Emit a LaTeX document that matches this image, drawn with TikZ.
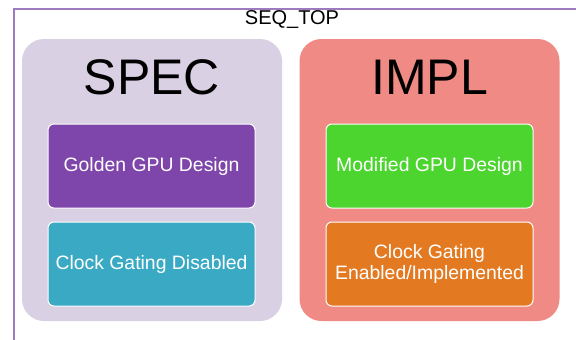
\documentclass[tikz,border=0pt]{standalone}
\usepackage{fontspec}
\setmainfont{Liberation Sans}
\definecolor{framec}{HTML}{9C7BBF}
\definecolor{specbg}{HTML}{D9D0E3}
\definecolor{implbg}{HTML}{F08A84}
\definecolor{golden}{HTML}{7E45AA}
\definecolor{cgoff}{HTML}{3AA9C3}
\definecolor{modif}{HTML}{4BD52E}
\definecolor{cgon}{HTML}{E37A22}
\tikzset{
  panel/.style={minimum width=260pt,minimum height=282pt,rounded corners=22pt,inner sep=0pt},
  blk/.style={draw=white,line width=1pt,rounded corners=6pt,minimum width=207pt,minimum height=84pt,
    text=white,align=center,inner sep=2pt,font=\fontsize{19.4}{21}\selectfont},
  title/.style={font=\fontsize{50}{54}\selectfont}
}
\begin{document}
\begin{tikzpicture}[x=1pt,y=-1pt]
\useasboundingbox (0,0) rectangle (576,340);
% outer frame, runs off the page on the right and bottom
\draw[framec,line width=1.6pt] (600,8.8) -- (14,8.8) -- (14,360);
\node[font=\fontsize{20}{22}\selectfont] (top) at (292,20) {SEQ\_TOP};

% left side
\node[panel,fill=specbg] (spec) at (152,180) {};
\node[title] (spect) at (152,77) {SPEC};
\node[blk,fill=golden] (gold) at (151.5,166) {Golden GPU Design};
\node[blk,fill=cgoff] (cgd) at (151.5,264) {Clock Gating Disabled};

% right side
\node[panel,fill=implbg] (impl) at (429.5,180) {};
\node[title] (implt) at (429.5,77) {IMPL};
\node[blk,fill=modif] (mod) at (429.5,166) {Modified GPU Design};
\node[blk,fill=cgon] (cge) at (429.5,264) {Clock Gating\\Enabled/Implemented};
\end{tikzpicture}
\end{document}
